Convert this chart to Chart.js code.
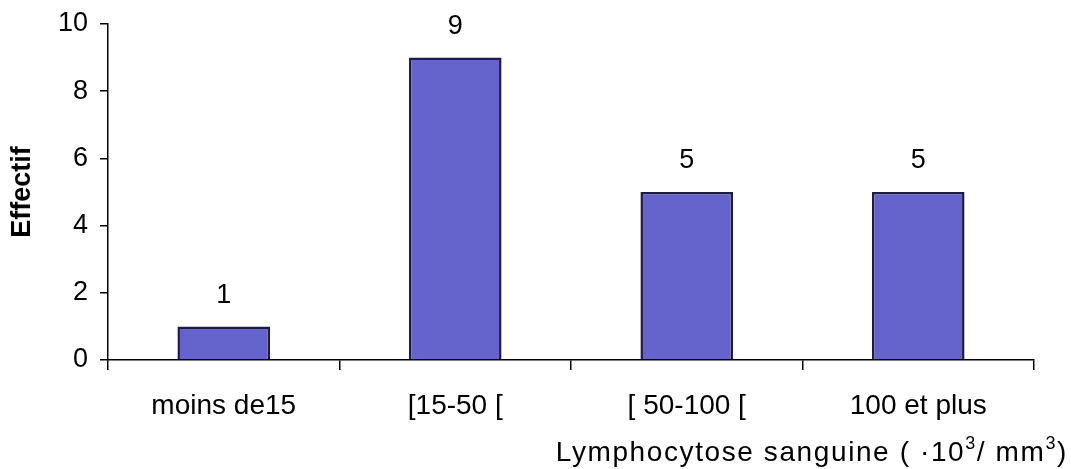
<!DOCTYPE html>
<html>
<head>
<meta charset="utf-8">
<script src="https://cdn.jsdelivr.net/npm/chart.js@4"></script>
<style>
  html, body { margin: 0; padding: 0; background: #fff; }
  #wrap { width: 1071px; height: 469px; }
</style>
</head>
<body>
<div id="wrap"><canvas id="chartcanvas"></canvas></div>
<script>
var categories = ["moins de15", "[15-50 [", "[ 50-100 [", "100 et plus"];
var effectif = [1, 9, 5, 5];
var yTicks = [0, 2, 4, 6, 8, 10];
// x title pieces: [text, superscript?]
var xTitleParts = [["Lymphocytose sanguine ( \u00b710", false], ["3", true], ["/ mm", false], ["3", true], [")", false]];
var yTitle = "Effectif";

var font = "'Liberation Sans', Arial, sans-serif";

// value labels above the bars + x title at bottom right
var labelsPlugin = {
	id: "labelsPlugin",
	afterDatasetsDraw: function(chart) {
		var ctx = chart.ctx;
		var meta = chart.getDatasetMeta(0);
		ctx.save();
		ctx.fillStyle = "#000";
		ctx.font = "27px " + font;
		ctx.textAlign = "center";
		ctx.textBaseline = "middle";
		meta.data.forEach(function(bar, i) {
			ctx.fillText(String(effectif[i]), bar.x, bar.y - 31);
		});

		// x title, right aligned, with superscripts
		ctx.textAlign = "left";
		ctx.textBaseline = "alphabetic";
		ctx.letterSpacing = "1.6px";
		var total = 0;
		xTitleParts.forEach(function(p) {
			ctx.font = (p[1] ? "18px " : "28px ") + font;
			total += ctx.measureText(p[0]).width;
		});
		var x = 1068 - total;
		var base = 461;
		xTitleParts.forEach(function(p) {
			ctx.font = (p[1] ? "18px " : "28px ") + font;
			ctx.fillText(p[0], x, p[1] ? base - 12 : base);
			x += ctx.measureText(p[0]).width;
		});
		ctx.restore();
	}
};

var ctx = document.getElementById("chartcanvas").getContext("2d");
var myChart = new Chart(ctx, {
	type: "bar",
	data: {
		labels: categories,
		datasets: [{
			data: effectif,
			backgroundColor: "#6464cc",
			borderColor: "#1c1c44",
			borderWidth: 2.5,
			barPercentage: 0.4,
			categoryPercentage: 1.0
		}]
	},
	options: {
		responsive: true,
		maintainAspectRatio: false,
		animation: false,
		layout: { padding: { top: 24, right: 37, left: 0, bottom: 0 } },
		plugins: {
			legend: { display: false },
			tooltip: { enabled: false }
		},
		scales: {
			x: {
				offset: true,
				grid: {
					offset: true,
					drawOnChartArea: false,
					drawTicks: true,
					tickLength: 10,
					color: "#000",
					lineWidth: 1.5
				},
				border: { display: true, color: "#000", width: 1.5 },
				ticks: {
					color: "#000",
					font: { family: font, size: 28 },
					padding: 19,
					maxRotation: 0
				},
				afterFit: function(scale) { scale.height = 109; scale.paddingLeft = 0; scale.paddingRight = 0; }
			},
			y: {
				min: 0,
				max: 10,
				afterBuildTicks: function(scale) {
					scale.ticks = yTicks.map(function(v) { return { value: v }; });
				},
				grid: {
					drawOnChartArea: false,
					drawTicks: true,
					tickLength: 8,
					color: "#000",
					lineWidth: 1.5
				},
				border: { display: true, color: "#000", width: 1.5 },
				ticks: {
					color: "#000",
					font: { family: font, size: 27 },
					padding: 12
				},
				title: {
					display: true,
					text: yTitle,
					color: "#000",
					font: { family: font, size: 27, weight: "bold" },
					padding: { top: 6, bottom: 0 }
				},
				afterFit: function(scale) { scale.width = 108; scale.paddingTop = 0; scale.paddingBottom = 0; }
			}
		}
	},
	plugins: [labelsPlugin]
});
</script>
</body>
</html>
